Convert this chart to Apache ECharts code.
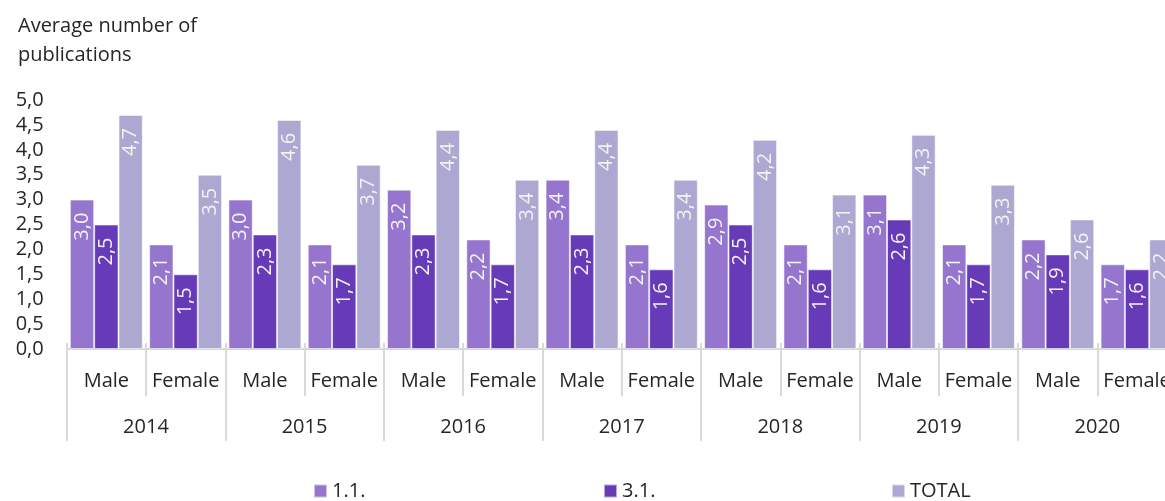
<!DOCTYPE html>
<html>
<head>
<meta charset="utf-8">
<script src="https://cdn.jsdelivr.net/npm/echarts@6/dist/echarts.min.js"></script>
<style>
html,body{margin:0;padding:0;background:#fff;overflow:hidden;width:1165px;height:501px;}
#chart{width:1190px;height:501px;}
</style>
</head>
<body>
<div id="chart"></div>
<script>
var genders = ['Male','Female','Male','Female','Male','Female','Male','Female','Male','Female','Male','Female','Male','Female'];
var years = ['2014','2015','2016','2017','2018','2019','2020'];
var seriesNames = ['1.1.','3.1.','TOTAL'];
var values11 = [3.0,2.1, 3.0,2.1, 3.2,2.2, 3.4,2.1, 2.9,2.1, 3.1,2.1, 2.2,1.7];
var values31 = [2.5,1.5, 2.3,1.7, 2.3,1.7, 2.3,1.6, 2.5,1.6, 2.6,1.7, 1.9,1.6];
var valuesTotal = [4.7,3.5, 4.6,3.7, 4.4,3.4, 4.4,3.4, 4.2,3.1, 4.3,3.3, 2.6,2.2];
var colors = ['#9575cd','#673ab7','#aca8d2'];

var FONT = "'Open Sans', 'Noto Sans', sans-serif";
var TXT = '#262626';
var AX = '#d9d9d9';

function fmt(v){ return Number(v).toFixed(1).replace('.', ','); }

function barSeries(name, data, color){
  return {
    name: name,
    type: 'bar',
    xAxisIndex: 0,
    data: data,
    barGap: '0%',
    barCategoryGap: '8%',
    itemStyle: { color: color, borderColor: 'rgba(255,255,255,0.55)', borderWidth: 1 },
    label: {
      show: true,
      position: 'insideTop',
      rotate: 90,
      align: 'right',
      verticalAlign: 'middle',
      distance: 13,
      color: '#f2f2f2',
      fontFamily: FONT,
      fontSize: 20,
      formatter: function(p){ return fmt(p.value); }
    }
  };
}

var chart = echarts.init(document.getElementById('chart'), null, {renderer:'canvas'});
chart.setOption({
  animation: false,
  backgroundColor: '#fff',
  title: {
    text: 'Average number of\npublications',
    left: 13,
    top: 7,
    textStyle: { fontFamily: FONT, fontSize: 20, fontWeight: 'normal', color: TXT, lineHeight: 29 }
  },
  legend: [
    { data: [seriesNames[0]], left: 308, top: 476, icon: 'rect', itemWidth: 13, itemHeight: 13,
      textStyle: { fontFamily: FONT, fontSize: 20, color: TXT } },
    { data: [seriesNames[1]], left: 598, top: 476, icon: 'rect', itemWidth: 13, itemHeight: 13,
      textStyle: { fontFamily: FONT, fontSize: 20, color: TXT } },
    { data: [seriesNames[2]], left: 886, top: 476, icon: 'rect', itemWidth: 13, itemHeight: 13,
      textStyle: { fontFamily: FONT, fontSize: 20, color: TXT } }
  ],
  grid: { left: 66.7, width: 1110, top: 100, bottom: 152, containLabel: false },
  yAxis: {
    type: 'value',
    min: 0, max: 5, interval: 0.5,
    axisLine: { show: false },
    axisTick: { show: false },
    splitLine: { show: false },
    axisLabel: { margin: 23, fontFamily: FONT, fontSize: 20, color: TXT, formatter: fmt }
  },
  xAxis: [
    {
      type: 'category', data: genders, position: 'bottom',
      axisLine: { show: true, lineStyle: { color: AX, width: 2 } },
      axisTick: { show: true, length: 47, lineStyle: { color: AX, width: 2 } },
      axisLabel: { margin: 22, fontFamily: FONT, fontSize: 20, color: TXT, interval: 0 }
    },
    {
      type: 'category', data: genders, position: 'bottom',
      axisLine: { show: false },
      axisTick: { show: true, inside: true, length: 6, lineStyle: { color: AX, width: 2 } },
      axisLabel: { show: false }
    },
    {
      type: 'category', data: years, position: 'bottom',
      axisLine: { show: false },
      axisTick: { show: true, length: 92, lineStyle: { color: AX, width: 2 } },
      axisLabel: { margin: 68, fontFamily: FONT, fontSize: 20, color: TXT, interval: 0 }
    }
  ],
  series: [
    barSeries(seriesNames[0], values11, colors[0]),
    barSeries(seriesNames[1], values31, colors[1]),
    barSeries(seriesNames[2], valuesTotal, colors[2])
  ]
});
</script>
</body>
</html>
